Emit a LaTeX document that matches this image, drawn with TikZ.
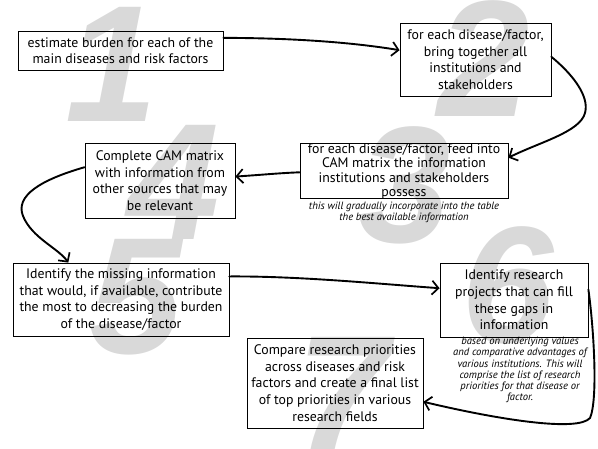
\documentclass[tikz,border=0pt]{standalone}
\usepackage{fontspec}
\setmainfont{PT Sans}
\newfontfamily\digitfont{Liberation Sans}
\usetikzlibrary{arrows.meta}
\begin{document}
\begin{tikzpicture}[x=1pt,y=-1pt,
  box/.style={draw, line width=0.8pt, align=center, inner sep=0pt,
    font=\fontsize{13.8}{16.6}\selectfont},
  boxtext/.style={align=center, inner sep=0pt, font=\fontsize{13.8}{14.4}\selectfont},
  captext/.style={align=center, inner sep=0pt, font=\fontsize{10.6}{11.2}\selectfont\itshape},
  digit/.style={text=black!15, inner sep=0pt, anchor=base,
    font=\fontsize{166}{166}\selectfont\digitfont\bfseries\itshape},
  flow/.style={line width=1.9pt, line cap=round,
    -{Straight Barb[length=6.5pt,width=14pt,line width=1.7pt]}}]
\useasboundingbox (0,0) rectangle (598,449);
% background digits
\node[digit] (d1) at (112,122) {1};
\node[digit] (d2) at (484,117) {2};
\node[digit] (d3) at (405,243) {3};
\node[digit] (d4) at (174,240) {4};
\node[digit] (d5) at (136,354) {5};
\node[digit] (d6) at (508,343) {6};
\node[digit] (d7) at (343,452) {7};
% boxes
\node[box, minimum width=205pt, minimum height=39pt] (b1) at (120.5,50.5)
  {estimate burden for each of the\\main diseases and risk factors};
\node[box, minimum width=151pt, minimum height=73pt] (b2) at (475.5,59.5)
  {for each disease/factor,\\bring together all\\institutions and\\stakeholders};
\node[box, minimum width=208pt, minimum height=55pt] (b3) at (404,170.5) {};
\node[boxtext] (t3) at (404,171.5)
  {for each disease/factor, feed into\\CAM matrix the information\\institutions and stakeholders\\possess};
\node[box, minimum width=150pt, minimum height=75pt] (b4) at (160,180.5)
  {Complete CAM matrix\\with information from\\other sources that may\\be relevant};
\node[box, minimum width=216pt, minimum height=73pt] (b5) at (121,299.5)
  {Identify the missing information\\that would, if available, contribute\\the most to decreasing the burden\\of the disease/factor};
\node[box, minimum width=148pt, minimum height=74pt] (b6) at (514,300)
  {Identify research\\projects that can fill\\these gaps in\\information};
\node[box, minimum width=176pt, minimum height=90pt] (b7) at (335,383)
  {Compare research priorities\\across diseases and risk\\factors and create a final list\\of top priorities in various\\research fields};
% captions
\node[captext] (c3) at (404,212.5)
  {this will gradually incorporate into the table\\the best available information};
\node[captext] (c6) at (520,370)
  {based on underlying values\\and comparative advantages of\\various institutions. This will\\comprise the list of research\\priorities for that disease or\\factor.};
% connectors
\draw[flow] (b1.7.5) .. controls (290,38) and (350,42) .. (b2.173);
\draw[flow] (b2.2) .. controls (570,72) and (590,95) .. (585,113)
  .. controls (580,132) and (540,142) .. (b3.7);
\draw[flow] (b3.181) .. controls (280,173) and (260,175) .. (b4.3);
\draw[flow] (b4.170) .. controls (40,180) and (15,196) .. (23,216)
  .. controls (32,238) and (58,248) .. (b5.145);
\draw[flow] (b5.12) .. controls (300,276) and (380,284) .. (b6.171.5);
\draw[flow] (b6.8) .. controls (594,330) and (598,400) .. (590,418)
  .. controls (578,432) and (500,420) .. (b7.-12);
\end{tikzpicture}
\end{document}
